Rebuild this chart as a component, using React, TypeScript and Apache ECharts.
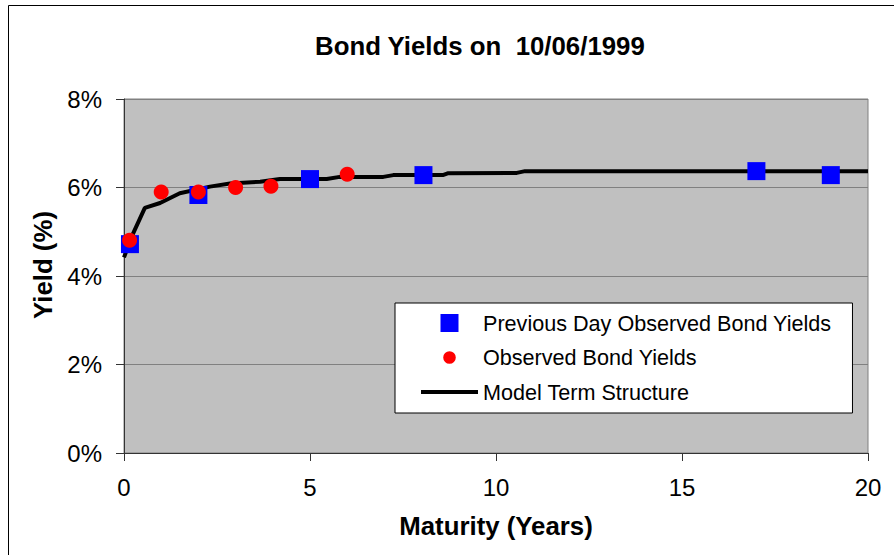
import React, { useEffect, useRef } from "react";
import * as echarts from "echarts";

const FONT = "'Liberation Sans', Arial, sans-serif";

const titleText = "Bond Yields on  10/06/1999";
const xAxisName = "Maturity (Years)";
const yAxisName = "Yield (%)";
const seriesNames = ["Previous Day Observed Bond Yields", "Observed Bond Yields", "Model Term Structure"];

// Previous day observed yields: [maturity (years), yield (%)]
const prevDayYields: [number, number][] = [
  [0.16, 4.72],
  [2.0, 5.83],
  [5.0, 6.19],
  [8.05, 6.28],
  [17.0, 6.37],
  [19.0, 6.28],
];

// Observed yields
const observedYields: [number, number][] = [
  [0.15, 4.81],
  [1.0, 5.9],
  [2.0, 5.9],
  [3.0, 6.0],
  [3.95, 6.03],
  [6.0, 6.3],
];

// Model term structure
const modelCurve: [number, number][] = [
  [0.0, 4.42],
  [0.2, 4.88],
  [0.56, 5.54],
  [0.97, 5.65],
  [1.5, 5.87],
  [2.31, 6.02],
  [2.85, 6.09],
  [3.66, 6.13],
  [4.19, 6.19],
  [5.45, 6.19],
  [5.8, 6.24],
  [6.97, 6.24],
  [7.24, 6.28],
  [8.57, 6.28],
  [8.7, 6.32],
  [10.56, 6.33],
  [10.78, 6.37],
  [20.0, 6.37],
];

const xTicks = { min: 0, max: 20, interval: 5 };
const yTicks = { min: 0, max: 8, interval: 2 };

export default function App() {
  const ref = useRef<HTMLDivElement>(null);
  useEffect(() => {
    if (!ref.current) return;
    const chart = echarts.init(ref.current, undefined, { renderer: "svg" });
    chart.setOption({
      animation: false,
      backgroundColor: "#ffffff",
      title: {
        text: titleText,
        left: 315,
        top: 33,
        padding: 0,
        textStyle: { fontFamily: FONT, fontSize: 25.8, fontWeight: "bold", color: "#000" },
      },
      graphic: [
        {
          type: "rect",
          left: 6,
          top: 3,
          shape: { width: 1000, height: 1000 },
          style: { fill: "none", stroke: "#000", lineWidth: 1 },
          z: -10,
          silent: true,
        },
      ],
      grid: {
        left: 124,
        right: 26,
        top: 99,
        bottom: 102,
        show: true,
        backgroundColor: "#C0C0C0",
        borderColor: "#808080",
        borderWidth: 1,
      },
      legend: {
        left: 395,
        top: 303,
        orient: "vertical",
        padding: [9, 21, 10, 26],
        itemWidth: 57,
        itemHeight: 18,
        itemGap: 12.5,
        backgroundColor: "#ffffff",
        borderColor: "#000000",
        borderWidth: 1,
        textStyle: { fontFamily: FONT, fontSize: 21.6, color: "#000", lineHeight: 22 },
        data: [
          { name: seriesNames[0], icon: "path://M0,0h18v18h-18z" },
          { name: seriesNames[1], icon: "path://M0,0M18,18M9,2.7A6.3,6.3,0,1,1,9,15.3A6.3,6.3,0,1,1,9,2.7Z" },
          { name: seriesNames[2], icon: "path://M0,0h57v4h-57z" },
        ],
      },
      xAxis: {
        type: "value",
        min: xTicks.min,
        max: xTicks.max,
        interval: xTicks.interval,
        name: xAxisName,
        nameLocation: "middle",
        nameGap: 60,
        nameTextStyle: { fontFamily: FONT, fontSize: 25.8, fontWeight: "bold", color: "#000" },
        axisLine: { onZero: false, lineStyle: { color: "#333", width: 1 } },
        axisTick: { show: true, length: 8, lineStyle: { color: "#333" } },
        axisLabel: { margin: 22, fontFamily: FONT, fontSize: 24, color: "#000" },
        splitLine: { show: false },
      },
      yAxis: {
        type: "value",
        min: yTicks.min,
        max: yTicks.max,
        interval: yTicks.interval,
        name: yAxisName,
        nameLocation: "middle",
        nameGap: 68,
        nameRotate: 90,
        nameTextStyle: { fontFamily: FONT, fontSize: 25.8, fontWeight: "bold", color: "#000", padding: [0, 0, 0, 22] },
        axisLine: { show: true, lineStyle: { color: "#333", width: 1 } },
        axisTick: { show: true, length: 8, lineStyle: { color: "#333" } },
        axisLabel: { margin: 22, fontFamily: FONT, fontSize: 24, color: "#000", formatter: "{value}%" },
        splitLine: { show: true, lineStyle: { color: "#808080", width: 1 } },
      },
      series: [
        {
          name: seriesNames[2],
          type: "line",
          data: modelCurve,
          symbol: "none",
          lineStyle: { color: "#000", width: 4 },
          itemStyle: { color: "#000" },
          z: 2,
        },
        {
          name: seriesNames[0],
          type: "scatter",
          data: prevDayYields,
          symbol: "rect",
          symbolSize: 18,
          itemStyle: { color: "#0000FF", opacity: 1 },
          z: 3,
        },
        {
          name: seriesNames[1],
          type: "scatter",
          data: observedYields,
          symbol: "circle",
          symbolSize: 15,
          itemStyle: { color: "#FF0000", opacity: 1 },
          z: 4,
        },
      ],
    });
    return () => chart.dispose();
  }, []);
  return (
    <div
      ref={ref}
      style={{ position: "absolute", left: 0, top: 0, width: 894, height: 555 }}
    />
  );
}
